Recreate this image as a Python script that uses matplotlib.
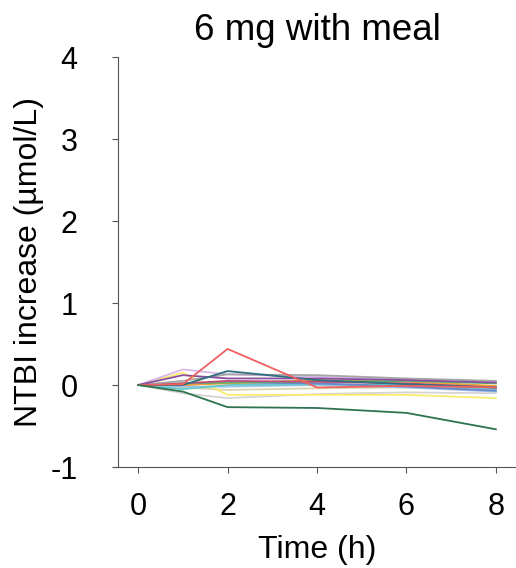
import numpy as np
import matplotlib
matplotlib.use('Agg')
import matplotlib.pyplot as plt

plt.rcParams.update({
    'font.family': 'Liberation Sans',
    'axes.unicode_minus': False,
})

# time points (h)
times = [0, 1, 2, 4, 6, 8]

# individual subjects: NTBI increase (umol/L)
red      = [0, 0.01, 0.44, -0.03, -0.01, -0.03]
dkgreen  = [0, -0.08, -0.27, -0.28, -0.34, -0.54]
yellow   = [0, 0.15, -0.12, -0.12, -0.12, -0.16]
ltgrey   = [0, -0.10, -0.16, -0.11, -0.09, -0.10]
lavender = [0, 0.19, 0.13, 0.10, 0.07, -0.06]
purple   = [0, 0.12, 0.08, 0.08, 0.06, 0.03]
teal     = [0, 0.00, 0.17, 0.06, 0.01, -0.03]
grey     = [0, 0.05, 0.13, 0.12, 0.08, 0.05]
green    = [0, 0.02, 0.03, 0.04, 0.05, 0.02]
orange   = [0, 0.00, 0.02, 0.06, 0.04, -0.01]
cyan     = [0, -0.05, 0.00, 0.01, 0.00, -0.05]
magenta  = [0, 0.02, 0.05, 0.04, 0.02, -0.03]
beige    = [0, -0.03, -0.06, -0.04, -0.03, -0.05]
blue     = [0, 0.00, 0.03, 0.02, -0.02, -0.07]
ltblue   = [0, -0.02, -0.02, 0.00, -0.03, -0.08]

series = [
    (ltgrey, '#d4d4d4'), (beige, '#d9d5a8'), (yellow, '#f7ee6e'),
    (lavender, '#d9b8ea'), (ltblue, '#9fc4e8'), (cyan, '#63c9cf'),
    (blue, '#6b86c9'), (orange, '#f2a23a'), (green, '#56b06a'),
    (magenta, '#c04a7a'), (grey, '#a5a5a5'), (purple, '#8a4f9e'),
    (teal, '#2f6f82'), (red, '#f06060'), (dkgreen, '#2e7350'),
]

fig = plt.figure(figsize=(5.16, 5.68), dpi=100)
ax = fig.add_axes([0.2287, 0.1778, 0.7713, 0.7218])

for vals, col in series:
    ax.plot(times, vals, color=col, lw=1.3)

ax.set_xlim(-0.45, 8.45)
ax.set_ylim(-1, 4)
ax.set_xticks([0, 2, 4, 6, 8])
ax.set_yticks([-1, 0, 1, 2, 3, 4])
ax.spines['top'].set_visible(False)
ax.spines['right'].set_visible(False)
for s in ('left', 'bottom'):
    ax.spines[s].set_color('#555555')
    ax.spines[s].set_linewidth(0.8)
ax.spines['bottom'].set_bounds(-0.55, 8.45)
ax.tick_params(axis='both', colors='#555555', labelcolor='black',
               length=4, width=0.8, labelsize=22)
ax.tick_params(axis='y', pad=25)
ax.tick_params(axis='x', pad=14)

ax.set_xlabel('Time (h)', fontsize=23, labelpad=9)
ax.set_ylabel('NTBI increase (µmol/L)', fontsize=23, labelpad=5)
ax.set_title('6 mg with meal', fontsize=26.5, pad=12)

fig.savefig('out.png', dpi=100)
